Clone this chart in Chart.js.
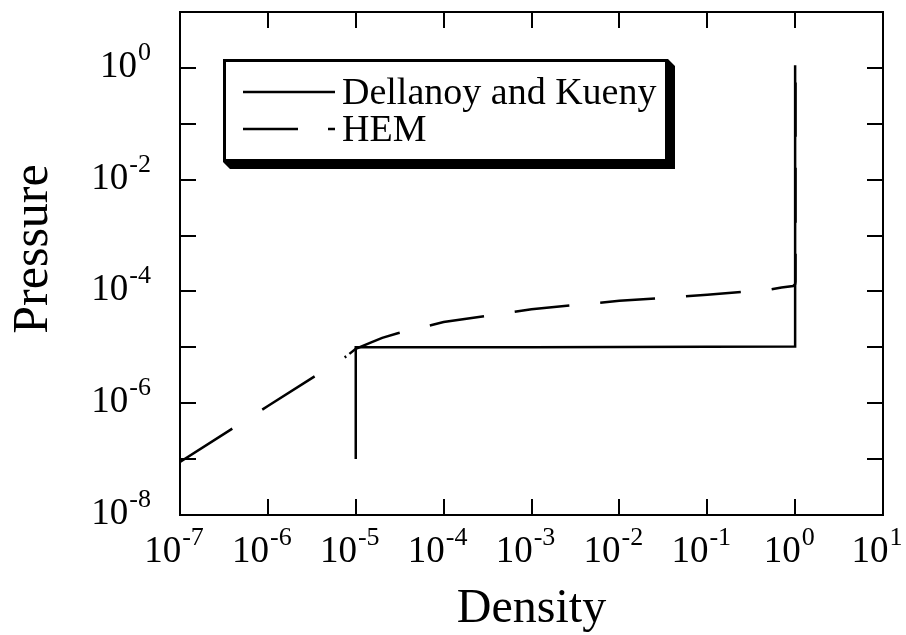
<!DOCTYPE html>
<html>
<head>
<meta charset="utf-8">
<script src="https://cdn.jsdelivr.net/npm/chart.js@4/dist/chart.umd.min.js"></script>
<style>
  html, body { margin: 0; background: #fff; }
  #wrap { width: 906px; height: 635px; }
</style>
</head>
<body>
<div id="wrap"><canvas id="grafica"></canvas></div>
<script>
// Dellanoy and Kueny
const dkDensity  = [1e-5, 1e-5, 1e-3, 1, 1];
const dkPressure = [1e-7, 1e-5, 1e-5, 1.03e-5, 1.12];

// HEM
const hemDensity  = [1e-7, 1e-6, 7.8e-6, 1e-5, 1.5e-5, 2e-5, 3e-5, 1e-4, 1e-3, 1e-2, 1e-1, 0.5, 0.7, 0.95, 1, 1.01, 1.01];
const hemPressure = [8.9e-8, 8.9e-7, 6.9e-6, 9.4e-6, 1.23e-5, 1.48e-5, 1.79e-5, 2.83e-5, 4.8e-5, 6.8e-5, 8.7e-5, 1.07e-4, 1.18e-4, 1.25e-4, 1.35e-4, 1.5e-4, 0.55];

// ticks (decade exponents)
const xDecades = [-7, -6, -5, -4, -3, -2, -1, 0, 1];
const yDecades = [-8, -7, -6, -5, -4, -3, -2, -1, 0, 1];
const yLabeled = [-8, -6, -4, -2, 0];

const seriesNames = ["Dellanoy and Kueny", "HEM"];
const SERIF = "'Liberation Serif', 'Times New Roman', serif";

const puntos = (xs, ys) => xs.map((x, i) => ({ x, y: ys[i] }));

// the steep part of HEM uses a longer dash than the flat part
const esInclinado = c => c.p0DataIndex < 2;

function potencia(ctx, exp, x, y, align) {
  ctx.font = "37px " + SERIF;
  const wb = ctx.measureText("10").width;
  ctx.font = "26px " + SERIF;
  const sup = String(exp);
  const ws = ctx.measureText(sup).width;
  const w = wb + ws + 1;
  const x0 = align === "right" ? x - w : x - w / 2;
  ctx.textAlign = "left";
  ctx.textBaseline = "alphabetic";
  ctx.font = "37px " + SERIF;
  ctx.fillText("10", x0, y);
  ctx.font = "26px " + SERIF;
  ctx.fillText(sup, x0 + wb + 1, y - 17);
}

const marco = {
  id: "marco",
  afterDraw(chart) {
    const { ctx, chartArea: a, scales } = chart;
    const sx = scales.x, sy = scales.y;
    ctx.save();
    ctx.strokeStyle = "#000";
    ctx.fillStyle = "#000";
    ctx.lineWidth = 2;

    // frame
    ctx.strokeRect(a.left, a.top, a.right - a.left, a.bottom - a.top);

    // inward ticks
    const len = 16;
    ctx.beginPath();
    xDecades.forEach(k => {
      const px = Math.round(sx.getPixelForValue(Math.pow(10, k)));
      ctx.moveTo(px, a.bottom); ctx.lineTo(px, a.bottom - len);
      ctx.moveTo(px, a.top);    ctx.lineTo(px, a.top + len);
    });
    yDecades.forEach(k => {
      const py = Math.round(sy.getPixelForValue(Math.pow(10, k)));
      ctx.moveTo(a.left, py);  ctx.lineTo(a.left + len, py);
      ctx.moveTo(a.right, py); ctx.lineTo(a.right - len, py);
    });
    ctx.stroke();

    // tick labels
    xDecades.forEach(k => {
      potencia(ctx, k, sx.getPixelForValue(Math.pow(10, k)) - 6, a.bottom + 47, "center");
    });
    yLabeled.forEach(k => {
      potencia(ctx, k, a.left - 29, sy.getPixelForValue(Math.pow(10, k)) + 9, "right");
    });

    // axis titles
    ctx.font = "48px " + SERIF;
    ctx.textAlign = "center";
    ctx.fillText("Density", (a.left + a.right) / 2, 622);
    ctx.save();
    ctx.translate(47, 249);
    ctx.rotate(-Math.PI / 2);
    ctx.font = "50px " + SERIF;
    ctx.fillText("Pressure", 0, 0);
    ctx.restore();

    // legend box with drop shadow
    const L = 223, T = 59, R = 668, B = 162, d = 7;
    ctx.beginPath();
    ctx.moveTo(R, T); ctx.lineTo(R + d, T + d); ctx.lineTo(R + d, B + d);
    ctx.lineTo(L + d, B + d); ctx.lineTo(L, B); ctx.lineTo(R, B);
    ctx.closePath();
    ctx.fill();
    ctx.fillStyle = "#fff";
    ctx.fillRect(L, T, R - L, B - T);
    ctx.lineWidth = 3;
    ctx.strokeRect(L + 1.5, T + 1.5, R - L - 3, B - T - 3);

    ctx.lineWidth = 2.5;
    ctx.beginPath();
    ctx.moveTo(243, 92); ctx.lineTo(335, 92);
    ctx.stroke();
    ctx.setLineDash([55, 30]);
    ctx.beginPath();
    ctx.moveTo(243, 129); ctx.lineTo(335, 129);
    ctx.stroke();
    ctx.setLineDash([]);

    ctx.fillStyle = "#000";
    ctx.font = "38px " + SERIF;
    ctx.textAlign = "left";
    ctx.fillText(seriesNames[0], 342, 104);
    ctx.fillText(seriesNames[1], 342, 141);
    ctx.restore();
  }
};

new Chart(document.getElementById("grafica"), {
  type: "line",
  data: {
    datasets: [
      {
        label: seriesNames[0],
        data: puntos(dkDensity, dkPressure),
        borderColor: "#000",
        borderWidth: 2.5,
        pointRadius: 0,
        tension: 0,
        fill: false
      },
      {
        label: seriesNames[1],
        data: puntos(hemDensity, hemPressure),
        borderColor: "#000",
        borderWidth: 2.5,
        borderDash: [55, 31],
        pointRadius: 0,
        tension: 0,
        fill: false,
        segment: {
          borderDash: c => esInclinado(c) ? [62, 35.5] : [55, 31],
          borderDashOffset: c => esInclinado(c) ? 0 : -4
        }
      }
    ]
  },
  options: {
    responsive: true,
    maintainAspectRatio: false,
    animation: false,
    layout: { padding: { left: 180, top: 12, right: 23, bottom: 120 } },
    scales: {
      x: { type: "logarithmic", min: 1e-7, max: 10, display: false },
      y: { type: "logarithmic", min: 1e-8, max: 10, display: false }
    },
    plugins: {
      legend: { display: false },
      tooltip: { enabled: false }
    }
  },
  plugins: [marco]
});
</script>
</body>
</html>
